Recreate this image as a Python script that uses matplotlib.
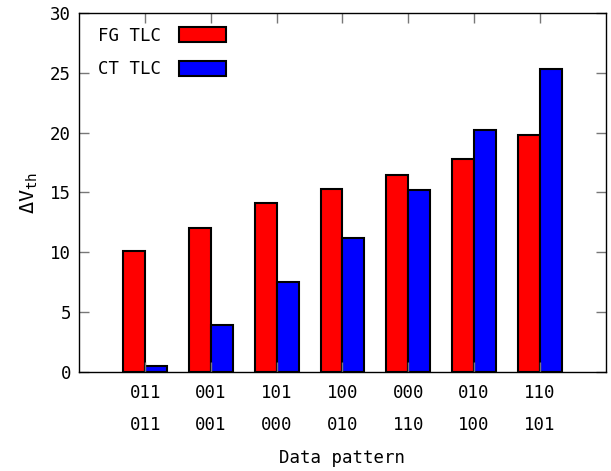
import matplotlib
matplotlib.use('Agg')
import matplotlib.pyplot as plt
import numpy as np

plt.rcParams['font.family'] = ['DejaVu Sans Mono']
plt.rcParams['mathtext.default'] = 'regular'

patterns = ['011\n011', '001\n001', '101\n000', '100\n010', '000\n110', '010\n100', '110\n101']
fg_tlc = [10.1, 12.0, 14.1, 15.3, 16.5, 17.8, 19.8]
ct_tlc = [0.5, 3.9, 7.5, 11.2, 15.2, 20.2, 25.3]

x = np.arange(1, len(patterns) + 1)
w = 1 / 3

fig = plt.figure(figsize=(6.11, 4.71), dpi=100)
ax = fig.add_axes([0.130, 0.2102, 0.861, 0.7622])

ax.bar(x - w / 2, fg_tlc, width=w, color='#ff0000', edgecolor='black', linewidth=1.5, label='FG TLC')
ax.bar(x + w / 2, ct_tlc, width=w, color='#0000ff', edgecolor='black', linewidth=1.5, label='CT TLC')

ax.set_xlim(0, 8)
ax.set_ylim(0, 30)
ax.set_yticks(np.arange(0, 31, 5))
ax.set_xticks(x)
ax.set_xticklabels(patterns, linespacing=1.95)
ax.tick_params(axis='both', direction='in', length=7, width=1, color='#777777',
               top=True, right=True, labelsize=12.5)
ax.tick_params(axis='x', pad=9)
ax.tick_params(axis='y', pad=6)
for s in ax.spines.values():
    s.set_linewidth(1)
    s.set_color('black')

ax.set_xlabel('Data pattern', fontsize=12.5, labelpad=11)
ax.set_ylabel(r'$\Delta V_{th}$', fontsize=14.5, labelpad=7)

ax.legend(loc='upper left', bbox_to_anchor=(0.036, 0.962), frameon=False, borderpad=0,
          borderaxespad=0, markerfirst=False, handlelength=2.7, handleheight=1.0,
          handletextpad=1.0, labelspacing=0.9, fontsize=12.5)

plt.savefig('out.png', dpi=100)
